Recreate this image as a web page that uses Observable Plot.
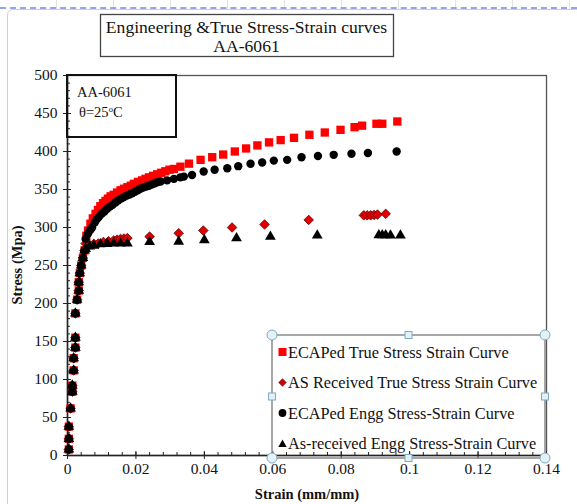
<!DOCTYPE html>
<html>
<head>
<meta charset="utf-8">
<script src="https://cdn.jsdelivr.net/npm/d3@7"></script>
<script src="https://cdn.jsdelivr.net/npm/@observablehq/plot@0.6"></script>
<style>
  html, body { margin: 0; padding: 0; background: #fff; }
  #wrap { position: relative; width: 577px; height: 504px; overflow: hidden; font-family: "Liberation Serif", "Times New Roman", serif; }
  #sheet { position: absolute; left: 0; top: 0; width: 577px; height: 7px;
    background: repeating-linear-gradient(90deg, transparent 0 56px, #d0d0d0 56px 57px, transparent 57px 57px);
    border-bottom: 2px dashed #4a6fd0; opacity: 0.6; }
  #area { position: absolute; left: 7px; top: 9px; width: 590px; height: 520px; border: 1px solid #cfcfcf; border-radius: 6px; background: #fff; }
  #chart { position: absolute; left: 0; top: 0; }
  #over { position: absolute; left: 0; top: 0; pointer-events: none; }
</style>
</head>
<body>
<div id="wrap">
  <div id="sheet"></div>
  <div id="area"></div>
  <div id="chart"></div>
  <svg id="over" width="577" height="504" font-family="Liberation Serif, Times New Roman, serif"></svg>
</div>
<script>
// ---------- DATA ----------
// ECAPed True Stress Strain Curve (red squares)
const ecapTrueStrain = [0.0004,0.0004,0.0004,0.0009,0.0014,0.0014,0.0018,0.0018,0.0023,0.0023,0.0023,0.0028,0.0033,0.0033,0.0036,0.0040,0.0045,0.0050,
  0.0055,0.0060,0.0067,0.0074,0.0082,0.0089,0.0096,0.0104,0.0111,0.0118,0.0126,0.0135,0.0145,0.0155,0.0165,0.0175,0.0185,0.0194,0.0206,0.0218,0.0228,0.0238,0.0250,0.0262,0.0274,0.0286,0.0298,0.0311,0.0330,0.0355,0.0389,0.0423,0.0455,0.0489,0.0522,0.0555,0.0589,0.0623,0.0662,0.0707,0.0752,0.0798,0.0839,0.0861,0.0903,0.0920,0.0964];
const ecapTrueStress = [8,22,38,62,84,92,112,128,142,155,187,205,217,228,240,250,260,270,
  289,296,305,312,318,323,328,332,335,338,341,343,346,349,351,353,355,357.5,360,362,364,366,368,370,372,374,376,377,380,384,389,392.5,396,400,404,408,412,415,418,422,425,428.5,432,434,436.5,436.5,439.5];

// AS Received True Stress Strain Curve (red diamonds)
const asTrueStrain = [0.0004,0.0004,0.0004,0.0009,0.0014,0.0014,0.0018,0.0018,0.0023,0.0023,0.0023,0.0028,0.0033,0.0033,0.0036,0.0040,0.0045,0.0050,
  0.0053,0.0065,0.0077,0.0090,0.0105,0.0120,0.0135,0.0145,0.0155,0.0165,0.0175,0.0240,0.0325,0.0397,0.0481,0.0576,0.0705,0.0866,0.0876,0.0886,0.0896,0.0906,0.0930];
const asTrueStress = [8,22,38,62,84,92,112,128,142,155,187,205,217,228,240,250,260,270,
  279,277,278.5,279,281,282,283,284,285,285.5,286,288,292.5,296,300,304,310,316,316,316,316.5,317,318];

// ECAPed Engg Stress-Strain Curve (black circles)
const ecapEnggStrain = [0.0004,0.0004,0.0004,0.0009,0.0014,0.0014,0.0018,0.0018,0.0023,0.0023,0.0023,0.0028,0.0033,0.0033,0.0036,0.0040,0.0045,0.0050,
  0.0053,0.0060,0.0067,0.0072,0.0080,0.0086,0.0092,0.0100,0.0108,0.0116,0.0124,0.0132,0.0140,0.0148,0.0157,0.0165,0.0173,0.0181,0.0189,0.0197,0.0205,0.0213,0.0221,0.0230,0.0238,0.0246,0.0254,0.0262,0.0272,0.0291,0.0311,0.0330,0.0340,0.0364,0.0398,0.0430,0.0467,0.0499,0.0535,0.0569,0.0603,0.0642,0.0684,0.0732,0.0778,0.0830,0.0878,0.0962];
const ecapEnggStress = [8,22,38,62,84,92,112,128,142,155,187,205,217,228,240,250,260,270,
  285,292,297,300,307,311,314,318,321,324.6,327.5,330,333,335.5,338,340,342,343.5,345,347,349,351,352.5,354,355,356.5,358,359.6,360.5,362,364,366,367,369,373.7,376,378,380.7,383.8,385.5,388,389,392.5,394,395.6,397,398,400];

// As-received Engg Stress-Strain Curve (black triangles)
const asEnggStrain = [0.0004,0.0004,0.0004,0.0009,0.0014,0.0014,0.0018,0.0018,0.0023,0.0023,0.0023,0.0028,0.0033,0.0033,0.0036,0.0040,0.0045,0.0050,
  0.0053,0.0065,0.0077,0.0096,0.0116,0.0135,0.0155,0.0175,0.0240,0.0325,0.0400,0.0494,0.0593,0.0730,0.0910,0.0920,0.0930,0.0944,0.0973];
const asEnggStress = [8,22,38,62,84,92,112,128,142,155,187,205,217,228,240,250,260,270,
  272,275,276,278,278.5,279,279,279,281,281.5,283.5,286,288,289.5,290,290,290,289.5,289.5];

const xTicks = [0, 0.02, 0.04, 0.06, 0.08, 0.1, 0.12, 0.14];
const yTicks = [0, 50, 100, 150, 200, 250, 300, 350, 400, 450, 500];
const seriesNames = ["ECAPed True Stress Strain Curve", "AS Received True Stress Strain Curve",
  "ECAPed Engg Stress-Strain Curve", "As-received Engg Stress-Strain Curve"];
const titleLines = ["Engineering &True Stress-Strain curves", "AA-6061"];
const insetLines = ["AA-6061", "θ=25"];
const xTitle = "Strain (mm/mm)";
const yTitle = "Stress (Mpa)";

// ---------- build ----------
const pts = (xs, ys) => xs.map((x, i) => ({x, y: ys[i]}));
const ecapTrue = pts(ecapTrueStrain, ecapTrueStress);
const asTrue = pts(asTrueStrain, asTrueStress);
const ecapEngg = pts(ecapEnggStrain, ecapEnggStress);
const asEngg = pts(asEnggStrain, asEnggStress);

const xMinor = d3.range(0, 0.1401, 0.004);
const yMinor = d3.range(0, 501, 10);
const fmt = d => String(+d.toFixed(2));

const chart = Plot.plot({
  width: 577, height: 504,
  marginLeft: 67, marginRight: 31, marginTop: 75, marginBottom: 49,
  x: {domain: [0, 0.14]},
  y: {domain: [0, 500]},
  style: {fontFamily: "Liberation Serif, Times New Roman, serif", fontSize: "15px", background: "transparent", color: "#111"},
  marks: [
    Plot.frame({stroke: "#555", strokeWidth: 1.3}),
    Plot.axisX(xTicks, {tickSize: 4, tickPadding: 3, tickFormat: fmt, fontSize: 15.5, label: null, stroke: "#222"}),
    Plot.axisX(xTicks, {tickSize: -4, text: null, label: null, stroke: "#222"}),
    Plot.axisX(xMinor, {tickSize: -3, text: null, label: null, stroke: "#222"}),
    Plot.axisY(yTicks, {tickSize: 4, tickPadding: 6, fontSize: 15.5, label: null, stroke: "#222"}),
    Plot.axisY(yTicks, {tickSize: -4, text: null, label: null, stroke: "#222"}),
    Plot.axisY(yMinor, {tickSize: -3, text: null, label: null, stroke: "#222"}),
    Plot.ruleY([0], {stroke: "#222", strokeWidth: 1.5}),
    Plot.ruleX([0], {stroke: "#222", strokeWidth: 1.5}),
    Plot.dot(ecapTrue, {x: "x", y: "y", symbol: "square", r: 4.7, fill: "#ff0000", stroke: "none"}),
    Plot.dot(asTrue, {x: "x", y: "y", symbol: "diamond2", r: 4.3, fill: "#e00000", stroke: "#6a0000", strokeWidth: 0.8}),
    Plot.dot(ecapEngg, {x: "x", y: "y", symbol: "circle", r: 4.2, fill: "#000", stroke: "none"}),
    Plot.dot(asEngg, {x: "x", y: "y", symbol: "triangle", r: 4, fill: "#000", stroke: "none"})
  ]
});
document.getElementById("chart").appendChild(chart);

// ---------- overlay: title, inset, legend, axis titles ----------
const svg = d3.select("#over");
// title box
svg.append("rect").attr("x", 100.5).attr("y", 14.5).attr("width", 293).attr("height", 42)
  .attr("fill", "#fff").attr("stroke", "#444").attr("stroke-width", 1.3);
svg.append("text").attr("x", 246.5).attr("y", 33).attr("text-anchor", "middle").attr("font-size", 17.6).attr("fill", "#111").text(titleLines[0]);
svg.append("text").attr("x", 246.5).attr("y", 52).attr("text-anchor", "middle").attr("font-size", 17.6).attr("fill", "#111").text(titleLines[1]);

// inset box
svg.append("rect").attr("x", 67).attr("y", 75).attr("width", 109).attr("height", 62)
  .attr("fill", "none").attr("stroke", "#111").attr("stroke-width", 2);
svg.append("text").attr("x", 77).attr("y", 97).attr("font-size", 14.5).attr("fill", "#111").text(insetLines[0]);
const t2 = svg.append("text").attr("x", 79).attr("y", 117).attr("font-size", 14.5).attr("fill", "#111");
t2.append("tspan").text(insetLines[1]);
t2.append("tspan").attr("dy", -5).attr("font-size", 8.5).text("o");
t2.append("tspan").attr("dy", 5).text("C");

// axis titles
svg.append("text").attr("x", 307).attr("y", 499).attr("text-anchor", "middle").attr("font-size", 14.5).attr("font-weight", "bold").attr("fill", "#111").text(xTitle);
svg.append("text").attr("transform", "translate(22,265) rotate(-90)").attr("text-anchor", "middle").attr("font-size", 14.5).attr("font-weight", "bold").attr("fill", "#111").text(yTitle);

// legend box
const L = {x0: 272, y0: 335, x1: 545, y1: 458};
svg.append("rect").attr("x", L.x0).attr("y", L.y0).attr("width", L.x1 - L.x0).attr("height", L.y1 - L.y0)
  .attr("fill", "none").attr("stroke", "#8a8a8a").attr("stroke-width", 1.5);
const rowsY = [352, 382.5, 413, 443.5];
seriesNames.forEach((name, i) => {
  const cy = rowsY[i];
  const cx = 282.5;
  if (i === 0) svg.append("rect").attr("x", cx - 4).attr("y", cy - 4).attr("width", 8).attr("height", 8).attr("fill", "#ff0000");
  if (i === 1) svg.append("path").attr("d", `M${cx},${cy-3.8}L${cx+3.8},${cy}L${cx},${cy+3.8}L${cx-3.8},${cy}Z`).attr("fill", "#d00000").attr("stroke", "#6a0000").attr("stroke-width", 0.6);
  if (i === 2) svg.append("circle").attr("cx", cx).attr("cy", cy).attr("r", 3.9).attr("fill", "#000");
  if (i === 3) svg.append("path").attr("d", `M${cx},${cy-4}L${cx+4.2},${cy+3.5}L${cx-4.2},${cy+3.5}Z`).attr("fill", "#000");
  svg.append("text").attr("x", 288).attr("y", cy + 5.5).attr("font-size", 16.3).attr("fill", "#111").text(name);
});
// selection handles
const handleCircles = [[L.x0, L.y0], [L.x1, L.y0], [L.x0, L.y1], [L.x1, L.y1]];
const handleSquares = [[(L.x0 + L.x1) / 2, L.y0], [L.x0, (L.y0 + L.y1) / 2], [L.x1, (L.y0 + L.y1) / 2], [(L.x0 + L.x1) / 2, L.y1]];
handleSquares.forEach(([x, y]) => svg.append("rect").attr("x", x - 3.5).attr("y", y - 3.5).attr("width", 7).attr("height", 7)
  .attr("fill", "#e3f1f8").attr("stroke", "#7fa9c0").attr("stroke-width", 1));
handleCircles.forEach(([x, y]) => svg.append("circle").attr("cx", x).attr("cy", y).attr("r", 5)
  .attr("fill", "#e3f1f8").attr("stroke", "#7fa9c0").attr("stroke-width", 1));
</script>
</body>
</html>
